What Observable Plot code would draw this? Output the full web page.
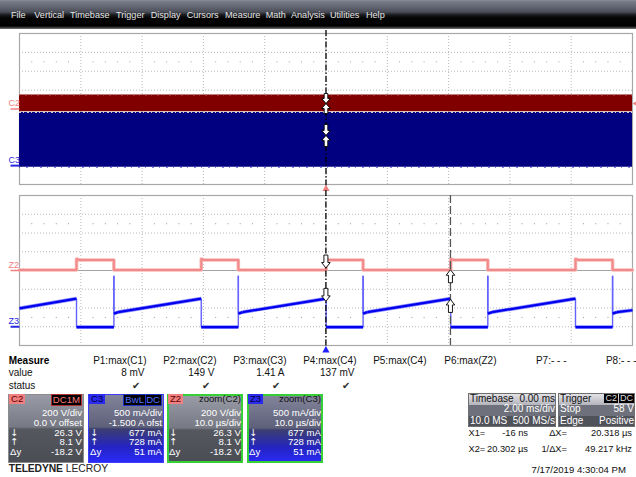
<!DOCTYPE html>
<html><head><meta charset="utf-8">
<script src="https://cdn.jsdelivr.net/npm/d3@7"></script>
<script src="https://cdn.jsdelivr.net/npm/@observablehq/plot@0.6"></script>
<style>
html,body{margin:0;padding:0;background:#fff;}
#root{position:relative;width:636px;height:477px;overflow:hidden;font-family:"Liberation Sans",Arial,sans-serif;}
.t{position:absolute;white-space:nowrap;}
.abs{position:absolute;box-sizing:border-box;}
</style></head><body><div id="root"></div>
<script>
// ---------------- data ----------------
const menuItems = ["File","Vertical","Timebase","Trigger","Display","Cursors","Measure","Math","Analysis","Utilities","Help"];
const menuX = [11, 34.3, 70, 116, 150.7, 186.7, 225, 265.7, 291, 330, 366];

// overview acquisition (2 ms/div): envelope of the compressed waveforms
const overviewTime = [-10, 10];          // ms
const c2Max = [149, 149];                // V
const c2Min = [-28, -28];                // V
const c3Max = [1.41, 1.41];              // A
const c3Min = [-0.04, -0.04];            // A
const overviewTicks = [-8, -6, -4, -2, 0, 2, 4, 6, 8];
const overviewCursorMs = [0];
const overviewCursorC2 = [58];           // V
const overviewCursorC3 = [0.80];         // A
const triggerLevelV = [58];

// zoom traces (10 us/div)
const zoomTicks = [-40, -30, -20, -10, 0, 10, 20, 30, 40];
const z2Time = [-50,
  -40.7, -40.7, -40.2, -34.6, -34.6,
  -20.35, -20.35, -19.85, -14.3, -14.3,
  0.02, 0.02, 0.52, 6.05, 6.05,
  20.35, 20.35, 20.85, 26.4, 26.4,
  40.7, 40.7, 41.2, 46.75, 46.75,
  50];
const z2Volt = [5,
  5, 122, 112, 112, 5,
  5, 122, 112, 112, 5,
  5, 122, 112, 112, 5,
  5, 122, 112, 112, 5,
  5, 122, 112, 112, 5,
  5];
const z3Time = [-50,
  -40.7, -40.7, -34.6, -34.6, -34.6, -33.9,
  -20.35, -20.35, -14.3, -14.3, -14.3, -13.6,
  0.02, 0.02, 6.05, 6.05, 6.05, 6.75,
  20.35, 20.35, 26.4, 26.4, 26.4, 27.1,
  40.7, 40.7, 46.75, 46.75, 46.75, 47.45,
  50];
const z3Amp = [0.49,
  0.75, -0.01, -0.01, 1.36, 0.35, 0.39,
  0.75, -0.01, -0.01, 1.36, 0.35, 0.39,
  0.75, -0.01, -0.01, 1.36, 0.35, 0.39,
  0.75, -0.01, -0.01, 1.36, 0.35, 0.39,
  0.75, -0.01, -0.01, 1.36, 0.35, 0.39,
  0.44];
const cursorTime = [-0.016, 20.302];     // us
const cursorZ2 = [26.3, 8.1];            // V
const cursorZ3 = [0.677, 0.728];         // A

// measure table
const measureNames = ["P1:max(C1)","P2:max(C2)","P3:max(C3)","P4:max(C4)","P5:max(C4)","P6:max(Z2)","P7:- - -","P8:- - -"];
const measureValues = ["8 mV","149 V","1.41 A","137 mV","","","",""];
const measureOk = [true,true,true,true,false,false,false,false];

// channel descriptor boxes
const chNames = ["C2","C3","Z2","Z3"];
const chTags = [["DC1M"],["BwL","DC"],["zoom(C2)"],["zoom(C3)"]];
const chScale = ["200 V/div","500 mA/div","200 V/div","500 mA/div"];
const chSecond = ["0.0 V offset","-1.500 A ofst","10.0 µs/div","10.0 µs/div"];
const chDown = ["26.3 V","677 mA","26.3 V","677 mA"];
const chUp = ["8.1 V","728 mA","8.1 V","728 mA"];
const chDelta = ["-18.2 V","51 mA","-18.2 V","51 mA"];

// ---------------- helpers ----------------
const W = 636;
const root = document.getElementById("root");
const voltDiv = v => v / 200;          // 200 V/div, 0 V offset
const ampDiv = a => (a - 1.5) / 0.5;   // 500 mA/div, -1.5 A offset

function txt(s, x, base, o = {}) {
  const fs = o.fs || 10;
  const d = document.createElement("div");
  d.className = "t";
  d.textContent = s;
  d.style.fontSize = fs + "px";
  d.style.lineHeight = fs + "px";
  d.style.top = (base - 0.8465 * fs) + "px";
  d.style.color = o.color || "#111";
  if (o.weight) d.style.fontWeight = o.weight;
  if (o.family) d.style.fontFamily = o.family;
  if (o.align === "right") d.style.right = (W - x) + "px"; else d.style.left = x + "px";
  if (o.bg) { d.style.background = o.bg; d.style.padding = o.pad || "0 1px"; }
  if (o.border) d.style.border = o.border;
  (o.parent || root).appendChild(d);
  return d;
}
function rect(x, y, w, h, css) {
  const d = document.createElement("div");
  d.className = "abs";
  d.style.cssText += `left:${x}px;top:${y}px;width:${w}px;height:${h}px;` + css;
  root.appendChild(d);
  return d;
}

function arrowSym(dir, h = 13, w = 4.3, shaft = 2, head = 5.5) {
  const s = dir; // 1 = pointing down (body above the tip), -1 = pointing up
  return {draw(ctx) {
    ctx.moveTo(0, 0);
    ctx.lineTo(-w, -s * head);
    ctx.lineTo(-shaft, -s * head);
    ctx.lineTo(-shaft, -s * h);
    ctx.lineTo(shaft, -s * h);
    ctx.lineTo(shaft, -s * head);
    ctx.lineTo(w, -s * head);
    ctx.closePath();
  }};
}
const groundSym = {draw(ctx) { ctx.moveTo(-9, 0); ctx.lineTo(0, 0); }};
const triUp = {draw(ctx) { ctx.moveTo(0, -3.5); ctx.lineTo(3.6, 3); ctx.lineTo(-3.6, 3); ctx.closePath(); }};
const triLeft = {draw(ctx) { ctx.moveTo(-3, 0); ctx.lineTo(3.5, -3.6); ctx.lineTo(3.5, 3.6); ctx.closePath(); }};

function gridMarks(ticks, xmin, xmax) {
  const step = (xmax - xmin) / 10;
  const minor = [];
  for (let i = 1; i < 50; i++) if (i % 5) for (const y of [2.5, -2.5]) minor.push({x: xmin + i * step / 5, y});
  return [
    Plot.ruleX(ticks, {stroke: "#b9b9b9", strokeDasharray: "1,2"}),
    Plot.ruleY([-3, -2, -1, 1, 2, 3], {stroke: "#b9b9b9", strokeDasharray: "1,2"}),
    Plot.ruleY([0], {stroke: "#a3a3a3"}),
    Plot.dot(minor, {x: "x", y: "y", r: 0.6, fill: "#a5a5a5"}),
    Plot.frame({stroke: "#a8a8a8", strokeWidth: 1.2})
  ];
}
function chanLabel(name, xmin, y, color, sw) {
  return [
    Plot.text([name], {x: () => xmin, y: () => y, text: d => d, dx: -11, dy: -3, textAnchor: "start", lineAnchor: "bottom", fill: color, fontSize: 9, fontFamily: "Liberation Sans, Arial"}),
    Plot.dot([name], {x: () => xmin, y: () => y, symbol: groundSym, stroke: color, strokeWidth: sw})
  ];
}

// ---------------- menu bar ----------------
rect(0, 0, 636, 29, "background:linear-gradient(to bottom,#8f929f 0px,#7a7d89 1px,#666a76 6px,#4a4d57 12px,#18191d 15px,#050505 18px,#000 26px,#4b4b4b 28px,#7a7a7a 29px);");
menuItems.forEach((m, i) => txt(m, menuX[i], 18.9, {fs: 9.1, color: "#e4e4e4"}));

// ---------------- overview grid ----------------
const topSvg = Plot.plot({
  width: 636, height: 160,
  marginLeft: 19, marginRight: 4, marginTop: 3, marginBottom: 6,
  x: {domain: [-10, 10], axis: null},
  y: {domain: [-4, 4], axis: null},
  style: {background: "transparent", overflow: "visible"},
  marks: [
    ...gridMarks(overviewTicks, -10, 10),
    Plot.areaY(overviewTime.map((t, i) => ({t, lo: voltDiv(c2Min[i]), hi: voltDiv(c2Max[i])})), {x: "t", y1: "lo", y2: "hi", fill: "#800000"}),
    Plot.areaY(overviewTime.map((t, i) => ({t, lo: ampDiv(c3Min[i]), hi: ampDiv(c3Max[i])})), {x: "t", y1: "lo", y2: "hi", fill: "#000080"}),
    Plot.ruleY([ampDiv(c3Max[0])], {stroke: "#f2dede", strokeWidth: 1, strokeDasharray: "2,2,1,3"}),
    Plot.ruleY([voltDiv(c2Max[0])], {stroke: "#c06060", strokeWidth: 1, strokeDasharray: "1,5,2,4"}),
    Plot.ruleY([ampDiv(c3Min[0])], {stroke: "#3a3ac0", strokeWidth: 1, strokeDasharray: "1,6,2,5"}),
    Plot.ruleX(overviewCursorMs, {y1: 4.16, y2: -4.15, stroke: "#000", strokeWidth: 1.3, strokeDasharray: "6,2,1.5,2"}),
    Plot.dot(overviewCursorMs.map((t, i) => ({t, y: voltDiv(overviewCursorC2[i])})), {x: "t", y: "y", symbol: arrowSym(1, 10, 4.3, 1.8, 5), fill: "white", stroke: "#000", strokeWidth: 0.9}),
    Plot.dot(overviewCursorMs.map((t, i) => ({t, y: voltDiv(overviewCursorC2[i])})), {x: "t", y: "y", symbol: arrowSym(-1, 10, 4.3, 1.8, 5), fill: "white", stroke: "#000", strokeWidth: 0.9}),
    Plot.dot(overviewCursorMs.map((t, i) => ({t, y: ampDiv(overviewCursorC3[i])})), {x: "t", y: "y", symbol: arrowSym(1, 11, 4.3, 1.8, 5), fill: "white", stroke: "#000", strokeWidth: 0.9}),
    Plot.dot(overviewCursorMs.map((t, i) => ({t, y: ampDiv(overviewCursorC3[i])})), {x: "t", y: "y", symbol: arrowSym(-1, 11, 4.3, 1.8, 5), fill: "white", stroke: "#000", strokeWidth: 0.9}),
    Plot.dot(overviewCursorMs, {x: d => d, y: () => -4, dy: 3.5, symbol: triUp, fill: "#f08080", stroke: "none"}),
    Plot.dot(triggerLevelV, {x: () => 10, y: d => voltDiv(d), dx: 3, symbol: triLeft, fill: "#f08080", stroke: "none"}),
    ...chanLabel("C2", -10, 0, "#f08080", 1.5),
    ...chanLabel("C3", -10, ampDiv(0), "#2a2ae0", 2)
  ]
});
const topWrap = document.createElement("div");
topWrap.className = "abs"; topWrap.style.cssText += "left:0;top:30px;";
topWrap.appendChild(topSvg); root.appendChild(topWrap);

// ---------------- zoom grid ----------------
const z2Pts = z2Time.map((t, i) => ({t, y: voltDiv(z2Volt[i])}));
const z3Pts = z3Time.map((t, i) => ({t, y: ampDiv(z3Amp[i])}));
const z3Segs = d3.pairs(z3Pts).map(([a, b]) => ({x1: a.t, y1: a.y, x2: b.t, y2: b.y, vert: a.t === b.t}));
const c1 = [{t: cursorTime[0], z2: voltDiv(cursorZ2[0]), z3: ampDiv(cursorZ3[0])}];
const c2 = [{t: cursorTime[1], z2: voltDiv(cursorZ2[1]), z3: ampDiv(cursorZ3[1])}];

const botSvg = Plot.plot({
  width: 636, height: 160,
  marginLeft: 19, marginRight: 4, marginTop: 5, marginBottom: 5,
  x: {domain: [-50, 50], axis: null},
  y: {domain: [-4, 4], axis: null},
  style: {background: "transparent", overflow: "visible"},
  marks: [
    ...gridMarks(zoomTicks, -50, 50),
    Plot.line(z2Pts, {x: "t", y: "y", stroke: "#f7bcbc", strokeWidth: 3.6}),
    Plot.line(z2Pts, {x: "t", y: "y", stroke: "#f28a8a", strokeWidth: 2}),
    Plot.link(z3Segs.filter(d => d.vert), {x1: "x1", y1: "y1", x2: "x2", y2: "y2", stroke: "#6262ff", strokeWidth: 1.4}),
    Plot.link(z3Segs.filter(d => !d.vert), {x1: "x1", y1: "y1", x2: "x2", y2: "y2", stroke: "#5555ff", strokeWidth: 3.6, strokeOpacity: 0.7}),
    Plot.link(z3Segs.filter(d => !d.vert), {x1: "x1", y1: "y1", x2: "x2", y2: "y2", stroke: "#0000ee", strokeWidth: 2.2}),
    Plot.ruleX(c1, {x: "t", y1: 4.27, y2: -4.27, stroke: "#000", strokeWidth: 1.3, strokeDasharray: "6,2,1.5,2"}),
    Plot.ruleX(c2, {x: "t", y1: 4, y2: -4, stroke: "#555", strokeWidth: 1.3, strokeDasharray: "8,3"}),
    Plot.dot(c1, {x: "t", y: "z2", symbol: arrowSym(1), fill: "white", stroke: "#000", strokeWidth: 0.9}),
    Plot.dot(c1, {x: "t", y: "z3", symbol: arrowSym(1), fill: "white", stroke: "#000", strokeWidth: 0.9}),
    Plot.dot(c2, {x: "t", y: "z2", symbol: arrowSym(-1), fill: "white", stroke: "#000", strokeWidth: 0.9}),
    Plot.dot(c2, {x: "t", y: "z3", symbol: arrowSym(-1), fill: "white", stroke: "#000", strokeWidth: 0.9}),
    Plot.dot(c1, {x: "t", y: () => -4, dy: 4, symbol: triUp, fill: "#2020ff", stroke: "none"}),
    ...chanLabel("Z2", -50, 0, "#f08080", 1.5),
    ...chanLabel("Z3", -50, ampDiv(0), "#2a2ae0", 2)
  ]
});
const botWrap = document.createElement("div");
botWrap.className = "abs"; botWrap.style.cssText += "left:0;top:190px;";
botWrap.appendChild(botSvg); root.appendChild(botWrap);

// ---------------- measure table ----------------
txt("Measure", 8.7, 364.3, {weight: "bold", color: "#000"});
txt("value", 8.7, 376.7, {color: "#111"});
txt("status", 8.7, 389, {color: "#111"});
measureNames.forEach((m, i) => {
  const xr = 146.5 + 70 * i;
  txt(m, xr, 364.3, {align: "right"});
  if (measureValues[i]) txt(measureValues[i], xr - 2, 376.7, {align: "right"});
  if (measureOk[i]) txt("✔", xr - 6, 389, {align: "right", fs: 10, color: "#2a2a2a", family: "DejaVu Sans"});
});

// ---------------- channel boxes ----------------
const boxX = [8, 88, 167, 247];
chNames.forEach((n, i) => {
  const x = boxX[i], blue = n.endsWith("3"), zoom = n.startsWith("Z");
  const bg = blue
    ? "linear-gradient(to bottom,#82849a 0px,#5e607a 32px,#3c3e70 34px,#2424c4 52px,#2b2bff 69px)"
    : "linear-gradient(to bottom,#999ca6 0px,#767983 32px,#56585f 34px,#4a4c53 69px)";
  const border = zoom ? "2px solid #35d035" : (blue ? "1px solid #3d3dff" : "1px solid #8c8c8c");
  rect(x, 394, 76, 69, `background:${bg};border:${border};`);
  const pink = n.endsWith("2");
  txt(n, x + 1, 402.5, {fs: 9.6, color: pink ? "#5a0000" : "#000040", bg: pink ? "#f08080" : "#2b2bf0", pad: "0 2px"});
  if (zoom) {
    txt(chTags[i][0], x + 74, 402.5, {fs: 9.6, align: "right", color: "#111"});
  } else if (pink) {
    txt(chTags[i][0], x + 74, 402.5, {fs: 9.6, align: "right", color: "#ff7a7a", bg: "#000", border: "1px solid #b03030"});
  } else {
    txt(chTags[i][1], x + 74, 402.5, {fs: 9.6, align: "right", color: "#5070ff", bg: "#000", border: "1px solid #2030c0"});
    txt(chTags[i][0], x + 58, 402.5, {fs: 9.6, align: "right", color: "#5070ff", bg: "#000", border: "1px solid #2030c0"});
  }
  const o = {fs: 9.6, align: "right", color: "#fff"};
  txt(chScale[i], x + 74, 415.7, o);
  txt(chSecond[i], x + 74, 425.7, o);
  txt(chDown[i], x + 74, 436, o);
  txt(chUp[i], x + 74, 445.5, o);
  txt(chDelta[i], x + 74, 455, o);
  txt("↓", x + 2, 436, {fs: 9.6, color: "#fff", family: "DejaVu Sans"});
  txt("↑", x + 2, 445.5, {fs: 9.6, color: "#fff", family: "DejaVu Sans"});
  txt("Δy", x + 2, 455, {fs: 9.6, color: "#fff"});
});

// ---------------- timebase / trigger ----------------
const headBg = "linear-gradient(to bottom,#e2e2e6,#b4b4bc)";
rect(468, 393, 88, 34, "background:#50525a;border:1px solid #707070;");
rect(469, 394, 86, 10.5, `background:${headBg};`);
rect(469, 404.5, 86, 11, "background:#6e717b;");
rect(558, 393, 77, 34, "background:#50525a;border:1px solid #707070;");
rect(559, 394, 75, 10.5, `background:${headBg};`);
rect(559, 404.5, 75, 11, "background:#6e717b;");
const tb = {fs: 10};
txt("Timebase", 470, 402, {...tb, color: "#111"});
txt("0.00 ms", 555, 402, {...tb, align: "right", color: "#111"});
txt("2.00 ms/div", 555, 412.5, {...tb, align: "right", color: "#fff"});
txt("10.0 MS", 470, 424, {...tb, color: "#fff"});
txt("500 MS/s", 555, 424, {...tb, align: "right", color: "#fff"});
txt("Trigger", 560, 402, {...tb, color: "#111"});
txt("DC", 634, 402, {fs: 9, align: "right", color: "#ddd", bg: "#000"});
txt("C2", 618, 402, {fs: 9, align: "right", color: "#ddd", bg: "#000"});
txt("Stop", 560, 412.5, {...tb, color: "#fff"});
txt("58 V", 634, 412.5, {...tb, align: "right", color: "#fff"});
txt("Edge", 560, 424, {...tb, color: "#fff"});
txt("Positive", 634, 424, {...tb, align: "right", color: "#fff"});

// ---------------- cursor readout, date, logo ----------------
const ro = {fs: 9.3, color: "#111"};
txt("X1=", 468.5, 437, ro);
txt("-16 ns", 528, 437, {...ro, align: "right"});
txt("ΔX=", 567, 437, {...ro, align: "right"});
txt("20.318 µs", 632, 437, {...ro, align: "right"});
txt("X2=", 468.5, 452.7, ro);
txt("20.302 µs", 528, 452.7, {...ro, align: "right"});
txt("1/ΔX=", 567, 452.7, {...ro, align: "right"});
txt("49.217 kHz", 632, 452.7, {...ro, align: "right"});
txt("7/17/2019 4:30:04 PM", 626, 472.7, {align: "right", color: "#111", fs: 9.6});
const logo = txt("", 8.7, 472.7, {fs: 10.3, color: "#222"});
logo.innerHTML = '<b style="letter-spacing:-0.1px">TELEDYNE</b> LECROY';
</script></body></html>
